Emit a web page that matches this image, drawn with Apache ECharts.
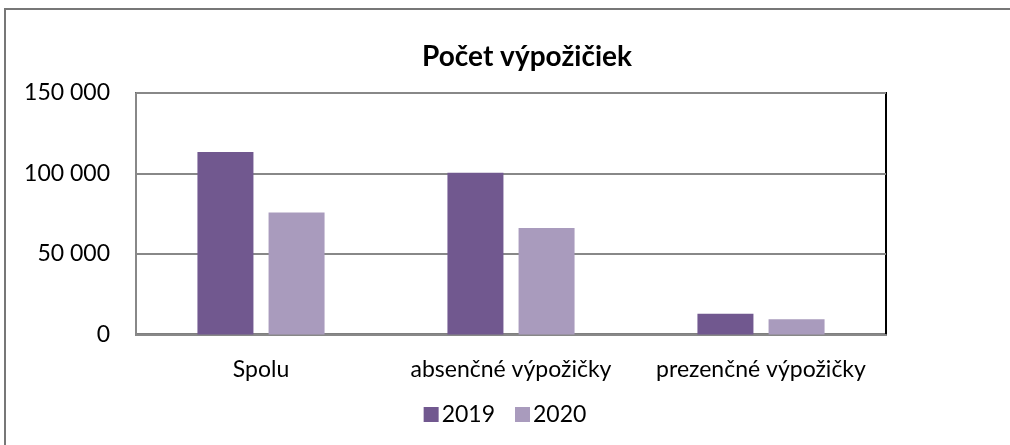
<!DOCTYPE html>
<html>
<head>
<meta charset="utf-8">
<title>Počet výpožičiek</title>
<script src="https://cdn.jsdelivr.net/npm/echarts@6/dist/echarts.min.js"></script>
<style>html,body{margin:0;padding:0;background:#fff;}</style>
</head>
<body>
<div id="main" style="width:1010px;height:445px;"></div>
<script type="text/javascript">
var categories = ['Spolu', 'absenčné výpožičky', 'prezenčné výpožičky'];
var years = ['2019', '2020'];
var values2019 = [113400, 100500, 12900];
var values2020 = [75700, 66200, 9500];
var yTicks = [0, 50000, 100000, 150000];

var colors = ['#71588f', '#a99bbd'];
var font = 'Lato, "Open Sans", sans-serif';

var myChart = echarts.init(document.getElementById('main'));

function fmt(v) {
  return String(v).replace(/\B(?=(\d{3})+(?!\d))/g, ' ');
}

var option = {
  backgroundColor: '#fff',
  animation: false,
  color: colors,
  title: {
    text: 'Počet výpožičiek',
    left: 522,
    textAlign: 'center',
    top: 38,
    textStyle: { fontFamily: font, fontSize: 28, fontWeight: 'bold', color: '#000' }
  },
  legend: {
    data: years,
    left: 'center',
    top: 398,
    itemWidth: 15,
    itemHeight: 15,
    itemGap: 20,
    icon: 'rect',
    textStyle: { fontFamily: font, fontSize: 23, color: '#000', padding: [0, 0, 0, -2] }
  },
  graphic: [{
    type: 'rect',
    shape: { x: 5, y: 9, width: 1020, height: 450 },
    style: { fill: 'none', stroke: '#777', lineWidth: 2 },
    silent: true
  }],
  grid: {
    left: 136,
    right: 124,
    top: 93,
    bottom: 110.5,
    show: true,
    borderColor: '#000',
    borderWidth: 2
  },
  xAxis: {
    type: 'category',
    data: categories,
    axisLine: { lineStyle: { color: '#888', width: 2 } },
    axisTick: { show: false },
    axisLabel: { fontFamily: font, fontSize: 23, color: '#000', margin: 24, interval: 0, hideOverlap: false }
  },
  yAxis: {
    type: 'value',
    min: yTicks[0],
    max: yTicks[yTicks.length - 1],
    interval: yTicks[1] - yTicks[0],
    axisLine: { show: true, lineStyle: { color: '#888', width: 2 } },
    axisTick: { show: false },
    splitLine: { lineStyle: { color: '#888', width: 2 } },
    axisLabel: { fontFamily: font, fontSize: 23, color: '#000', margin: 26, formatter: fmt }
  },
  series: [
    { name: years[0], type: 'bar', data: values2019, barWidth: 56, barGap: '27%' },
    { name: years[1], type: 'bar', data: values2020, barWidth: 56, barGap: '27%' }
  ]
};

myChart.setOption(option);
</script>
</body>
</html>
